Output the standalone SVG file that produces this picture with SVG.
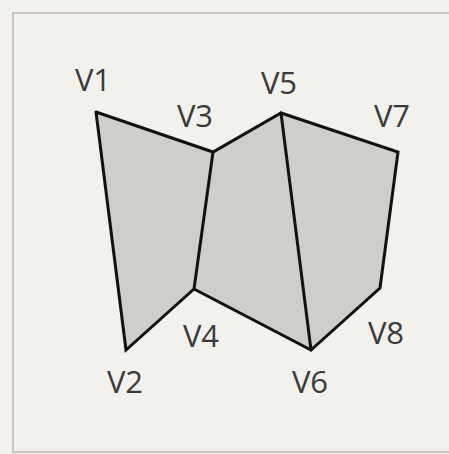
<svg xmlns="http://www.w3.org/2000/svg" width="449" height="454" viewBox="0 0 449 454">
<style>
.face{fill:#d0cec9;stroke:none}
.edge{fill:none;stroke:#111;stroke-width:3;stroke-linejoin:miter;stroke-linecap:round}
.lbl{font-family:"Open Sans","Liberation Sans",sans-serif;font-size:31px;fill:#3a3a3a;text-anchor:middle}
</style>
<rect x="0" y="0" width="449" height="454" fill="#f3f1ec"/>
<rect x="13" y="13" width="445" height="439" fill="none" stroke="#c9c6c1" stroke-width="2"/>
<g id="faces">
<polygon class="face" points="96,112 126,350 194,289 213,152"/>
<polygon class="face" points="213,152 194,289 311,350 281,113"/>
<polygon class="face" points="281,113 311,350 380,288 398,152"/>
</g>
<g id="connectors">
<polyline class="edge" points="96,112 213,152 281,113 398,152 380,288 311,350 194,289 126,350 96,112"/>
<line class="edge" x1="213" y1="152" x2="194" y2="289"/>
<line class="edge" x1="281" y1="113" x2="311" y2="350"/>
</g>
<g id="V1"><text class="lbl" x="93" y="91">V1</text></g>
<g id="V2"><text class="lbl" x="125" y="393">V2</text></g>
<g id="V3"><text class="lbl" x="195" y="127">V3</text></g>
<g id="V4"><text class="lbl" x="201" y="347">V4</text></g>
<g id="V5"><text class="lbl" x="279" y="94">V5</text></g>
<g id="V6"><text class="lbl" x="310" y="393">V6</text></g>
<g id="V7"><text class="lbl" x="392" y="127">V7</text></g>
<g id="V8"><text class="lbl" x="386" y="344">V8</text></g>
</svg>
